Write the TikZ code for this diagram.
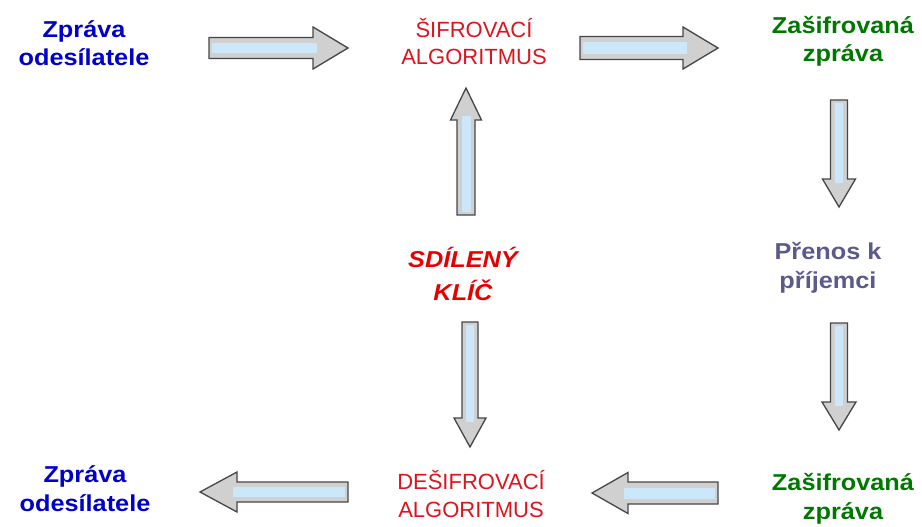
\documentclass[tikz,border=0pt]{standalone}
\usepackage{fontspec}
\setmainfont{Liberation Sans}
\newfontfamily\widefont[FakeStretch=1.1]{Liberation Sans}
\usetikzlibrary{calc}
\definecolor{blueT}{RGB}{0,0,204}
\definecolor{redT}{RGB}{220,20,30}
\definecolor{greenT}{RGB}{0,120,0}
\definecolor{grayT}{RGB}{90,90,140}
\definecolor{keyRed}{RGB}{230,0,0}
\definecolor{arrFill}{RGB}{208,208,208}
\definecolor{arrGlow}{RGB}{204,230,250}
\definecolor{arrEdge}{RGB}{70,70,70}
\tikzset{
  boldtxt/.style={anchor=base, align=center, font=\widefont\bfseries\fontsize{23}{28.5}\selectfont},
  algtxt/.style={anchor=base, align=center, text=redT, font=\fontsize{22}{27.5}\selectfont},
  keytxt/.style={anchor=base, align=center, text=keyRed, font=\widefont\bfseries\itshape\fontsize{23}{33}\selectfont},
  arrline/.style={draw=arrEdge, fill=arrFill, line width=1.3pt, line join=miter},
  arrglow/.style={draw=arrGlow, line cap=butt},
}
\newcommand\blockarrow[5]{%
  \coordinate (#4-n) at ($(#5)!#3!(#4)$);
  \draw[arrline] ($(#4)!#1!90:(#5)$) -- ($(#4-n)!#1!90:(#5)$) -- ($(#4-n)!#2!90:(#5)$) -- (#5)
     -- ($(#4-n)!#2!-90:(#5)$) -- ($(#4-n)!#1!-90:(#5)$) -- ($(#4)!#1!-90:(#5)$) -- cycle;
  \draw[arrglow, line width=#1] ($(#4)!3pt!(#5)$) -- ($(#4-n)!4pt!(#5)$);
}
\begin{document}
\begin{tikzpicture}[x=1pt,y=-1pt]
\useasboundingbox (0,0) rectangle (922,527);
% text nodes (base anchor = baseline of the last line)
\node[boldtxt, text=blueT] (srcTop) at (84,66) {Zpráva\\odesílatele};
\node[algtxt] (encAlg) at (474,65) {ŠIFROVACÍ\\ALGORITMUS};
\node[boldtxt, text=greenT] (encTop) at (843,62) {Zašifrovaná\\zpráva};
\node[boldtxt, text=grayT] (transfer) at (828,288) {Přenos k\\příjemci};
\node[keytxt] (key) at (463,300) {SDÍLENÝ\\KLÍČ};
\node[boldtxt, text=blueT] (srcBot) at (85,511) {Zpráva\\odesílatele};
\node[algtxt] (decAlg) at (471,517) {DEŠIFROVACÍ\\ALGORITMUS};
\node[boldtxt, text=greenT] (encBot) at (843,519) {Zašifrovaná\\zpráva};
% arrow end points
\coordinate (a1s) at (209,48);  \coordinate (a1e) at (348,48);
\coordinate (a2s) at (580,48);  \coordinate (a2e) at (718,48);
\coordinate (a3s) at (839,100); \coordinate (a3e) at (839,207);
\coordinate (a4s) at (839,323); \coordinate (a4e) at (839,430);
\coordinate (a5s) at (718,493); \coordinate (a5e) at (592,493);
\coordinate (a6s) at (348,492); \coordinate (a6e) at (200,492);
\coordinate (a7s) at (466,215); \coordinate (a7e) at (466,88);
\coordinate (a8s) at (470,322); \coordinate (a8e) at (470,447);
% block arrows
\blockarrow{10.5pt}{21pt}{35pt}{a1s}{a1e}
\blockarrow{11.5pt}{21pt}{35pt}{a2s}{a2e}
\blockarrow{8.5pt}{16.5pt}{28pt}{a3s}{a3e}
\blockarrow{8.5pt}{17pt}{28pt}{a4s}{a4e}
\blockarrow{11pt}{20.5pt}{36pt}{a5s}{a5e}
\blockarrow{10pt}{20pt}{37pt}{a6s}{a6e}
\blockarrow{9pt}{15.5pt}{32pt}{a7s}{a7e}
\blockarrow{8pt}{16pt}{29pt}{a8s}{a8e}
\end{tikzpicture}
\end{document}
